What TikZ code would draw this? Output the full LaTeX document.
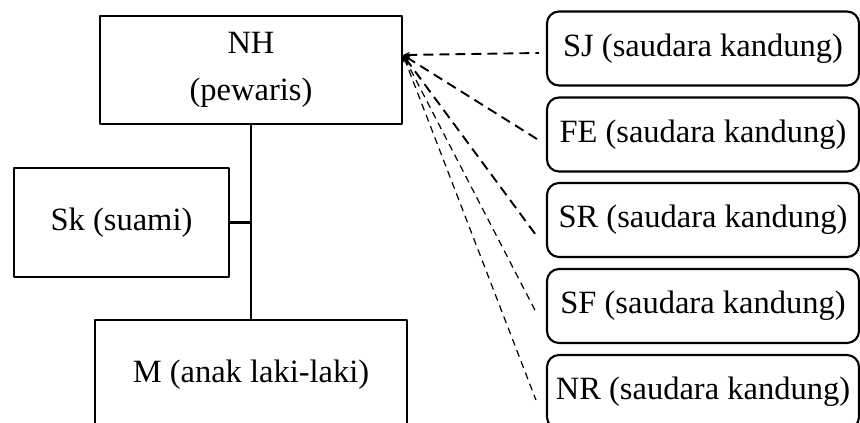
\documentclass[tikz,border=0pt]{standalone}
\usepackage{fontspec}
\setmainfont{Liberation Serif}
\usetikzlibrary{arrows.meta}
\definecolor{ink}{HTML}{000000}
\newcommand{\famfontsize}{\fontsize{32.5}{38}\selectfont}
\tikzset{
  every picture/.style = {font=\famfontsize, line join=round},
  person/.style        = {draw=ink, line width=2.1pt, align=center, inner sep=0pt},
  sibling/.style       = {person, rounded corners=12pt, minimum width=312pt, minimum height=74pt},
  tie/.style           = {line width=2.1pt},
  claim/.style         = {line width=1.9pt, dash pattern=on 10pt off 6pt, {Stealth[length=7pt,width=6pt]}-},
  faint/.style         = {claim, line width=1.2pt, dash pattern=on 7pt off 5pt},
}

\begin{document}
\begin{tikzpicture}[x=1pt, y=-1pt]
  \clip (0,0) rectangle (860,423);
  \useasboundingbox (0,0) rectangle (860,423);

  % ---------- left: the deceased, the husband, the son -------------------------
  \node[person, minimum width=302pt, minimum height=108pt] (NH) at (251,70)
    {NH\\[9pt](pewaris)};
  \node[person, minimum width=215pt, minimum height=109pt] (Sk) at (121.5,222.5)
    {Sk (suami)};
  \node[person, minimum width=312pt, minimum height=110pt] (M) at (251,375)
    {M (anak laki-laki)};

  \coordinate (join) at (NH.south |- Sk.east);
  \draw[tie] (NH.south) -- (M.north);
  \draw[tie] (Sk.east) -- (join);

  % ---------- right: the five siblings -----------------------------------------
  \node[sibling] (SJ) at (703,48.5)  {SJ (saudara kandung)};
  \node[sibling] (FE) at (703,134.5) {FE (saudara kandung)};
  \node[sibling] (SR) at (703,220)   {SR (saudara kandung)};
  \node[sibling] (SF) at (703,306)   {SF (saudara kandung)};
  \node[sibling] (NR) at (703,392)   {NR (saudara kandung)};

  % all five claims meet at one point on the right edge of NH,
  % and stop just short of the sibling boxes
  \coordinate (tip) at (403,55);
  \draw[claim] (tip) -- ([xshift=-7pt, yshift=-4.5pt]SJ.west);
  \draw[claim] (tip) -- ([xshift=-9pt, yshift=-4.5pt]FE.west);
  \draw[claim] (tip) -- ([xshift=-10pt,yshift=-15pt]SR.west);
  \draw[faint] (tip) -- ([xshift=-10pt,yshift=-6pt]SF.west);
  \draw[faint] (tip) -- ([xshift=-10pt,yshift=-8pt]NR.west);
\end{tikzpicture}
\end{document}
